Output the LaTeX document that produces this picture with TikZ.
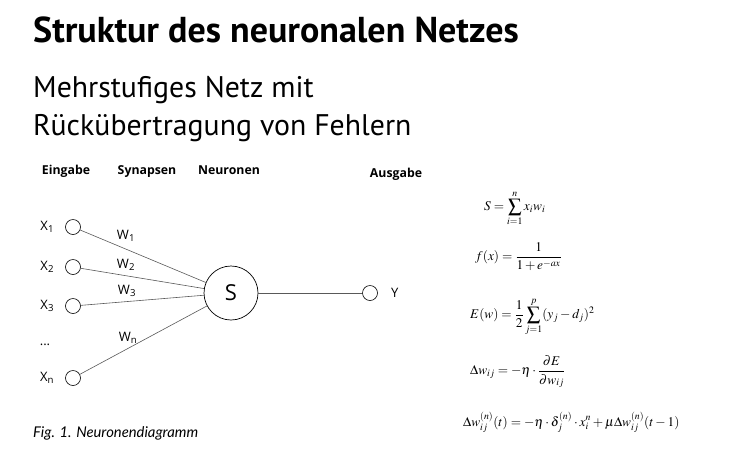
\documentclass[tikz,border=0pt]{standalone}
\usepackage{mathptmx}
\usepackage{fontspec}
\setmainfont{Open Sans}
\newfontfamily\titlefont{PT Sans}
\newfontfamily\capfont{Lato}
\usetikzlibrary{positioning}

\begin{document}
\begin{tikzpicture}[
    x=1pt, y=-1pt,
    inp/.style={circle, draw, line width=0.6pt, minimum size=15pt, inner sep=0pt},
    neuron/.style={circle, draw, line width=0.7pt, minimum size=54pt, inner sep=0pt, font=\fontsize{22}{24}\selectfont},
    syn/.style={draw, line width=0.6pt, color=black!65},
    colhead/.style={anchor=base, inner sep=0pt, font=\bfseries\fontsize{12.3}{14}\selectfont},
    xlabel/.style={inner sep=0pt, font=\fontsize{13}{15}\selectfont},
    weight/.style={inner sep=0pt, font=\fontsize{13}{15}\selectfont},
    formula/.style={anchor=west, inner sep=0pt, font=\fontsize{13.3}{15}\selectfont}
]
\useasboundingbox (0,0) rectangle (730,459);

% Title and subtitle
\node[anchor=base west, inner sep=0pt, font=\titlefont\bfseries\fontsize{36}{42}\selectfont] (title) at (33,42) {Struktur des neuronalen Netzes};
\node[anchor=base west, inner sep=0pt, font=\titlefont\fontsize{29.8}{34}\selectfont] (sub1) at (33,97) {Mehrstufiges Netz mit};
\node[anchor=base west, inner sep=0pt, font=\titlefont\fontsize{29.8}{34}\selectfont] (sub2) at (33,135) {Rückübertragung von Fehlern};

% Column headings
\node[colhead] (hin) at (66,174) {Eingabe};
\node[colhead] (hsyn) at (147,174) {Synapsen};
\node[colhead] (hneu) at (229,174) {Neuronen};
\node[colhead] (hout) at (396,177) {Ausgabe};

% Inputs, neuron and output
\node[inp] (x1) at (73,227) {};
\node[inp] (x2) at (73,267) {};
\node[inp] (x3) at (73,306) {};
\node[inp] (xn) at (73,378) {};
\node[neuron] (s) at (231,293) {S};
\node[inp] (y) at (370,293) {};

\node[xlabel, left=11pt of x1] (lx1) {X\textsubscript{1}};
\node[xlabel, left=11pt of x2] (lx2) {X\textsubscript{2}};
\node[xlabel, left=11pt of x3] (lx3) {X\textsubscript{3}};
\node[xlabel, left=11pt of xn] (lxn) {X\textsubscript{n}};
\node[xlabel] (dots) at (45,345) {...};
\node[xlabel, right=13pt of y] (ly) {Y};

% Synapses
\draw[syn] (x1) -- (s);
\draw[syn] (x2) -- (s);
\draw[syn] (x3) -- (s);
\draw[syn] (xn) -- (s);
\draw[syn] (s) -- (y);

\node[weight] (w1) at (126,236) {W\textsubscript{1}};
\node[weight] (w2) at (126,265) {W\textsubscript{2}};
\node[weight] (w3) at (127,291) {W\textsubscript{3}};
\node[weight] (wn) at (128,338) {W\textsubscript{n}};

% Formulas
\node[formula] (f1) at (484,208) {$\displaystyle S=\sum_{i=1}^{n}x_i w_i$};
\node[formula] (f2) at (475,257) {$\displaystyle f(x)=\frac{1}{1+e^{-ax}}$};
\node[formula] (f3) at (470,317) {$\displaystyle E(w)=\frac{1}{2}\sum_{j=1}^{p}(y_j-d_j)^2$};
\node[formula] (f4) at (470,372) {$\displaystyle \Delta w_{ij}=-\eta\cdot\frac{\partial E}{\partial w_{ij}}$};
\node[formula] (f5) at (463,422) {$\displaystyle \Delta w_{ij}^{(n)}(t)=-\eta\cdot\delta_j^{(n)}\cdot x_i^{n}+\mu\Delta w_{ij}^{(n)}(t-1)$};

% Caption
\node[anchor=base west, inner sep=0pt, font=\capfont\itshape\fontsize{14.8}{17}\selectfont] (cap) at (33,437) {Fig. 1. Neuronendiagramm};

\end{tikzpicture}
\end{document}
